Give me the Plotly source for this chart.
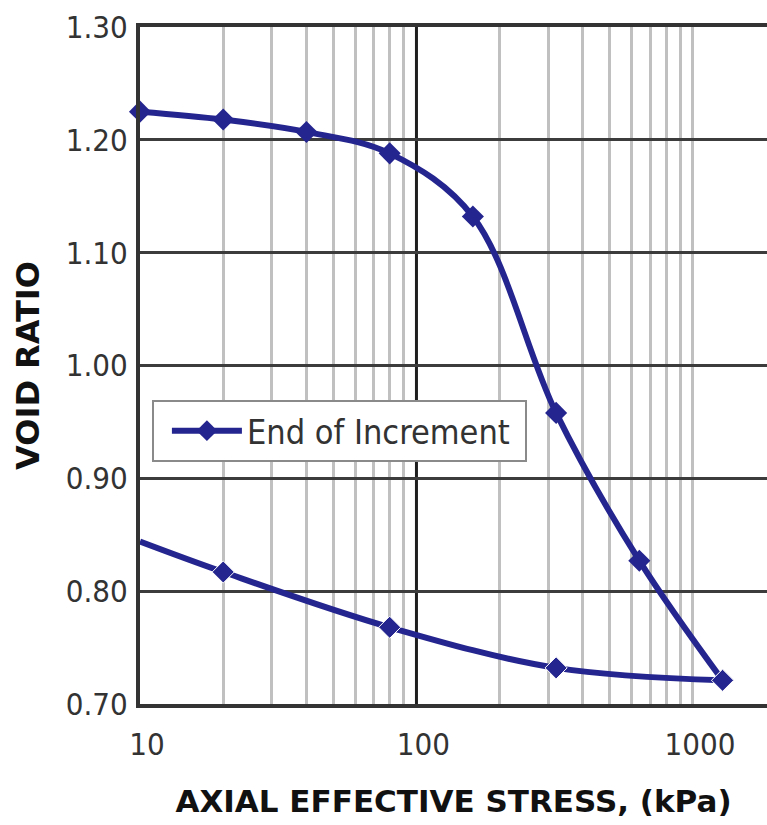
import plotly.graph_objects as go

# Data
stress_loading = [10, 20, 40, 80, 160, 320, 640, 1280]
void_loading = [1.225, 1.218, 1.207, 1.188, 1.132, 0.958, 0.827, 0.721]
stress_unloading = [1280, 320, 80, 20, 10]
void_unloading = [0.721, 0.732, 0.768, 0.817, 0.844]
unload_marker_sizes = [17, 17, 17, 17, 0]

x_tickvals = [10, 100, 1000]
x_ticktext = ["10", "100", "1000"]
x_minor_vals = [20, 30, 40, 50, 60, 70, 80, 90, 200, 300, 400, 500, 600, 700, 800, 900, 1000]
y_tickvals = [0.70, 0.80, 0.90, 1.00, 1.10, 1.20, 1.30]
legend_name = "End of Increment\u00a0"

LINE = "#25258f"
FONT = "DejaVu Sans Condensed, DejaVu Sans, sans-serif"
TFONT = "DejaVu Sans, sans-serif"

fig = go.Figure()
fig.add_trace(go.Scatter(
    x=stress_loading, y=void_loading, mode="lines+markers", name=legend_name,
    line=dict(color=LINE, width=6, shape="spline", smoothing=1.0),
    marker=dict(symbol="diamond", size=17, color=LINE, opacity=1),
    cliponaxis=False, showlegend=True,
))
fig.add_trace(go.Scatter(
    x=stress_unloading, y=void_unloading, mode="lines+markers", name=legend_name,
    line=dict(color=LINE, width=6, shape="spline", smoothing=1.0),
    marker=dict(symbol="diamond", size=unload_marker_sizes, color=LINE, opacity=1),
    cliponaxis=False, showlegend=False,
))

fig.add_shape(type="line", xref="x", yref="paper", x0=100, x1=100, y0=0, y1=1,
              line=dict(color="#1e1e1e", width=3), layer="below")

fig.update_layout(
    width=767, height=825,
    margin=dict(l=140, r=0, t=27, b=121),
    paper_bgcolor="white", plot_bgcolor="white",
    font=dict(family=FONT, color="#333333"),
    legend=dict(
        x=0.019, y=0.449, xanchor="left", yanchor="top",
        bgcolor="white", bordercolor="#8a8a8a", borderwidth=2,
        font=dict(family=FONT, size=34, color="#333333"),
        itemwidth=70, indentation=13,
    ),
    xaxis=dict(
        type="log", range=[1, 3.268],
        tickmode="array", tickvals=x_tickvals, ticktext=x_ticktext,
        ticks="outside", ticklen=10, tickcolor="rgba(0,0,0,0)", ticklabelshift=7,
        tickfont=dict(family=FONT, size=31, color="#333333"),
        showgrid=False, zeroline=False,
        showline=True, linecolor="#333333", linewidth=4, mirror=True,
        minor=dict(tickmode="array", tickvals=x_minor_vals, showgrid=True,
                   gridcolor="#c0c0c0", gridwidth=3, ticks=""),
        title=dict(text="<b>AXIAL EFFECTIVE STRESS, (kPa)</b>",
                   font=dict(family=TFONT, size=31, color="#111111"), standoff=30),
    ),
    yaxis=dict(
        range=[0.7, 1.3], tickmode="array", tickvals=y_tickvals, tickformat=".2f",
        ticks="outside", ticklen=2, tickcolor="rgba(0,0,0,0)",
        tickfont=dict(family=FONT, size=31, color="#333333"),
        showgrid=True, gridcolor="#3c3c3c", gridwidth=3, zeroline=False,
        showline=True, linecolor="#333333", linewidth=4, mirror=False,
        title=dict(text="<b>VOID RATIO</b>",
                   font=dict(family=TFONT, size=32, color="#111111"), standoff=18),
    ),
)

fig.write_html("out.html", config={"displayModeBar": False},
               post_script="document.body.style.margin='0';document.body.style.overflow='hidden';")
